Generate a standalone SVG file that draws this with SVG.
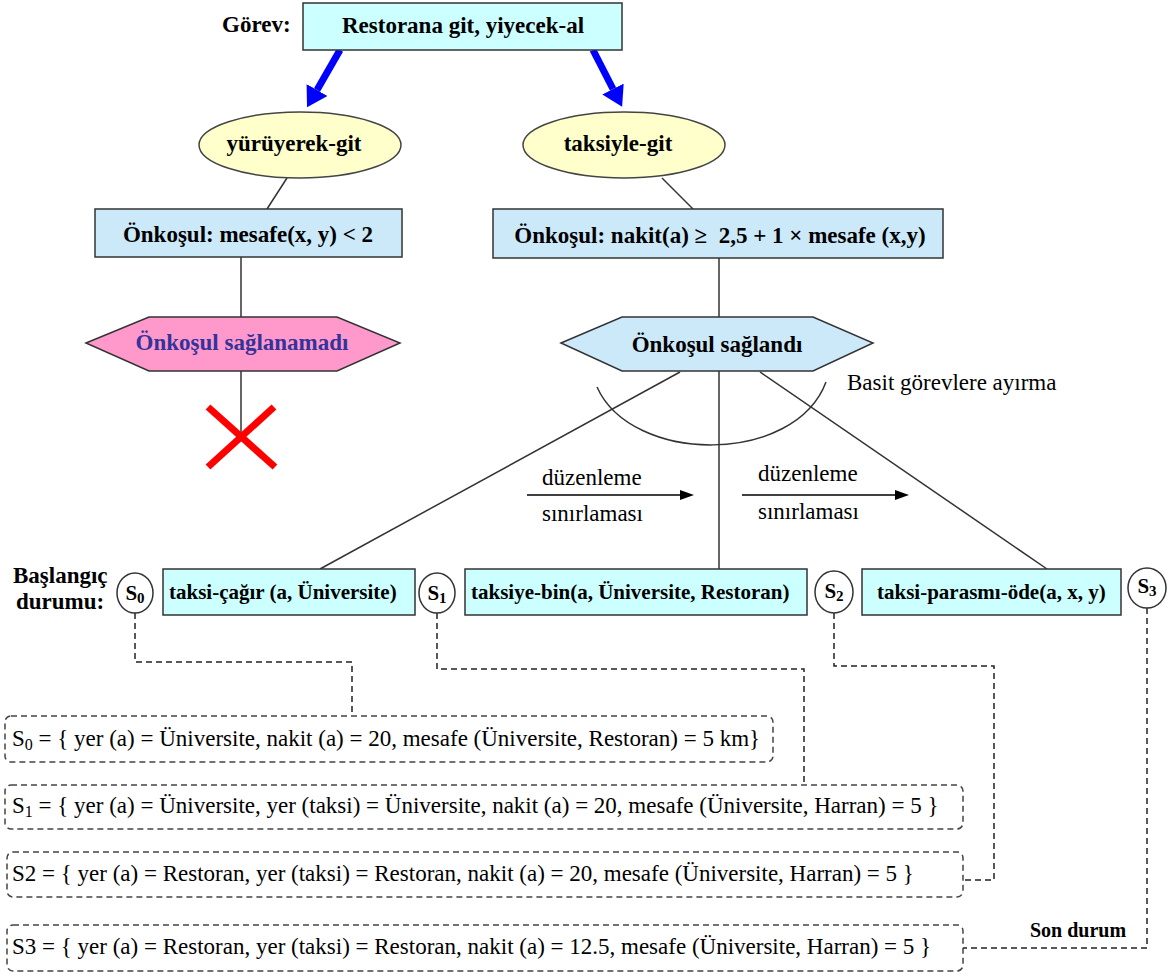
<svg xmlns="http://www.w3.org/2000/svg" width="1171" height="976" viewBox="0 0 1171 976" font-family="Liberation Serif, Times New Roman, serif">
  <style>
    .b { font-weight: bold; font-size: 23px; fill: #000; }
    .bs { font-weight: bold; font-size: 21px; fill: #000; }
    .r { font-size: 23px; fill: #000; }
    .mid { text-anchor: middle; }
    .task { fill: #ccffff; stroke: #333; stroke-width: 1.5; }
    .cond { fill: #cce9f9; stroke: #333; stroke-width: 1.5; }
    .oval { fill: #ffffcc; stroke: #444; stroke-width: 1.5; }
    .state { fill: #fff; stroke: #333; stroke-width: 1.5; }
    .sbox { fill: none; stroke: #444; stroke-width: 1.5; stroke-dasharray: 6 4; }
    .link { fill: none; stroke: #333; stroke-width: 1.5; }
    .dash { fill: none; stroke: #222; stroke-width: 1.5; stroke-dasharray: 6 4; }
    .blue { fill: none; stroke: #0000ff; stroke-width: 7; }
    .thin { fill: none; stroke: #000; stroke-width: 1.5; }
  </style>
  <defs>
    <marker id="bluehead" markerUnits="userSpaceOnUse" markerWidth="22" markerHeight="24" refX="0" refY="12" orient="auto" viewBox="0 0 22 24">
      <path d="M0,0 L20,12 L0,24 z" fill="#0000ff"/>
    </marker>
    <marker id="blackhead" markerUnits="userSpaceOnUse" markerWidth="14" markerHeight="10" refX="0" refY="5" orient="auto" viewBox="0 0 14 10">
      <path d="M0,0 L14,5 L0,10 z" fill="#000"/>
    </marker>
  </defs>

  <!-- connectors -->
  <g id="connectors">
    <line class="blue" x1="340" y1="50" x2="317" y2="90" marker-end="url(#bluehead)"/>
    <line class="blue" x1="593" y1="50" x2="613" y2="89" marker-end="url(#bluehead)"/>
    <line class="link" x1="287" y1="178" x2="267" y2="209"/>
    <line class="link" x1="662" y1="178" x2="693" y2="209"/>
    <line class="link" x1="241" y1="257" x2="241" y2="317"/>
    <line class="link" x1="241" y1="371" x2="241" y2="436"/>
    <line class="link" x1="719" y1="258" x2="719" y2="317"/>
    <line class="link" x1="680" y1="372" x2="320" y2="569"/>
    <line class="link" x1="719" y1="371" x2="719" y2="569"/>
    <line class="link" x1="760" y1="372" x2="1047" y2="569"/>
    <path class="link" d="M597,387 C632,465 795,465 826,382"/>
    <line class="thin" x1="527" y1="495" x2="680" y2="495" marker-end="url(#blackhead)"/>
    <line class="thin" x1="742" y1="495" x2="895" y2="495" marker-end="url(#blackhead)"/>
    <path class="dash" d="M135,613 V662 H352 V716"/>
    <path class="dash" d="M437,613 V669 H804 V785"/>
    <path class="dash" d="M834,613 V666 H994 V880 H963"/>
    <path class="dash" d="M1147,608 V948 H963"/>
  </g>

  <!-- goal -->
  <g id="goal">
    <text class="b" x="222" y="32">Görev:</text>
    <rect class="task" x="303" y="3" width="319" height="47"/>
    <text class="b mid" x="463" y="33">Restorana git, yiyecek-al</text>
  </g>

  <g id="walk">
    <ellipse class="oval" cx="300" cy="145" rx="101" ry="33"/>
    <text class="b mid" x="294" y="151">yürüyerek-git</text>
  </g>

  <g id="taxi">
    <ellipse class="oval" cx="624" cy="145" rx="101" ry="33"/>
    <text class="b mid" x="618" y="151">taksiyle-git</text>
  </g>

  <g id="walk-cond">
    <rect class="cond" x="95" y="209" width="307" height="48"/>
    <text class="b mid" x="248" y="242">Önkoşul: mesafe(x, y) &lt; 2</text>
  </g>

  <g id="taxi-cond">
    <rect class="cond" x="493" y="209" width="450" height="49"/>
    <text class="b mid" x="720" y="243" xml:space="preserve">Önkoşul: nakit(a) ≥  2,5 + 1 × mesafe (x,y)</text>
  </g>

  <g id="fail">
    <polygon points="86,343 149,317 337,317 400,343 337,371 149,371" fill="#ff99cc" stroke="#333" stroke-width="1.5"/>
    <text class="b mid" x="242" y="350" style="fill:#333399">Önkoşul sağlanamadı</text>
  </g>

  <g id="cross">
    <line x1="208" y1="407" x2="275" y2="467" stroke="#ff0000" stroke-width="7"/>
    <line x1="274" y1="407" x2="208" y2="467" stroke="#ff0000" stroke-width="7"/>
  </g>

  <g id="ok">
    <polygon points="561,343 622,317 813,317 873,343 813,371 622,371" class="cond"/>
    <text class="b mid" x="717" y="352">Önkoşul sağlandı</text>
  </g>

  <g id="decompose-label">
    <text class="r" x="847" y="390">Basit görevlere ayırma</text>
  </g>

  <g id="order-labels">
    <text class="r" x="542" y="485">düzenleme</text>
    <text class="r" x="542" y="521">sınırlaması</text>
    <text class="r" x="758" y="481">düzenleme</text>
    <text class="r" x="758" y="519">sınırlaması</text>
  </g>

  <g id="start-label">
    <text class="b" x="13" y="583">Başlangıç</text>
    <text class="b" x="16" y="609">durumu:</text>
  </g>

  <g id="s0">
    <ellipse class="state" cx="135" cy="593" rx="18" ry="20"/>
    <text class="bs mid" x="135" y="600">S<tspan font-size="15" dy="3">0</tspan></text>
  </g>
  <g id="call-taxi">
    <rect class="task" x="163" y="569" width="252" height="46"/>
    <text class="bs" x="169" y="599">taksi-çağır (a, Üniversite)</text>
  </g>
  <g id="s1">
    <ellipse class="state" cx="437" cy="593" rx="18" ry="20"/>
    <text class="bs mid" x="437" y="600">S<tspan font-size="15" dy="3">1</tspan></text>
  </g>
  <g id="board-taxi">
    <rect class="task" x="465" y="569" width="342" height="46"/>
    <text class="bs" x="471" y="599">taksiye-bin(a, Üniversite, Restoran)</text>
  </g>
  <g id="s2">
    <ellipse class="state" cx="834" cy="592" rx="19" ry="21"/>
    <text class="bs mid" x="834" y="598">S<tspan font-size="15" dy="3">2</tspan></text>
  </g>
  <g id="pay-taxi">
    <rect class="task" x="862" y="569" width="259" height="46"/>
    <text class="bs" x="877" y="599">taksi-parasmı-öde(a, x, y)</text>
  </g>
  <g id="s3">
    <ellipse class="state" cx="1147" cy="588" rx="19" ry="20"/>
    <text class="bs mid" x="1147" y="593">S<tspan font-size="15" dy="3">3</tspan></text>
  </g>

  <g id="state0">
    <rect class="sbox" x="5" y="716" width="768" height="46" rx="6"/>
    <text class="r" x="12" y="746">S<tspan font-size="16" dy="4">0</tspan><tspan dy="-4"> = { yer (a) = Üniversite, nakit (a) = 20, mesafe (Üniversite, Restoran) = 5 km}</tspan></text>
  </g>
  <g id="state1">
    <rect class="sbox" x="5" y="785" width="958" height="44" rx="6"/>
    <text class="r" x="12" y="813">S<tspan font-size="16" dy="4">1</tspan><tspan dy="-4"> = { yer (a) = Üniversite, yer (taksi) = Üniversite, nakit (a) = 20, mesafe (Üniversite, Harran) = 5 }</tspan></text>
  </g>
  <g id="state2">
    <rect class="sbox" x="7" y="852" width="956" height="45" rx="6"/>
    <text class="r" x="12" y="881">S2 = { yer (a) = Restoran, yer (taksi) = Restoran, nakit (a) = 20, mesafe (Üniversite, Harran) = 5 }</text>
  </g>
  <g id="state3">
    <rect class="sbox" x="7" y="925" width="956" height="46" rx="6"/>
    <text class="r" x="12" y="954">S3 = { yer (a) = Restoran, yer (taksi) = Restoran, nakit (a) = 12.5, mesafe (Üniversite, Harran) = 5 }</text>
  </g>

  <g id="end-label">
    <text class="b" x="1030" y="937" style="font-size:20px">Son durum</text>
  </g>
</svg>
